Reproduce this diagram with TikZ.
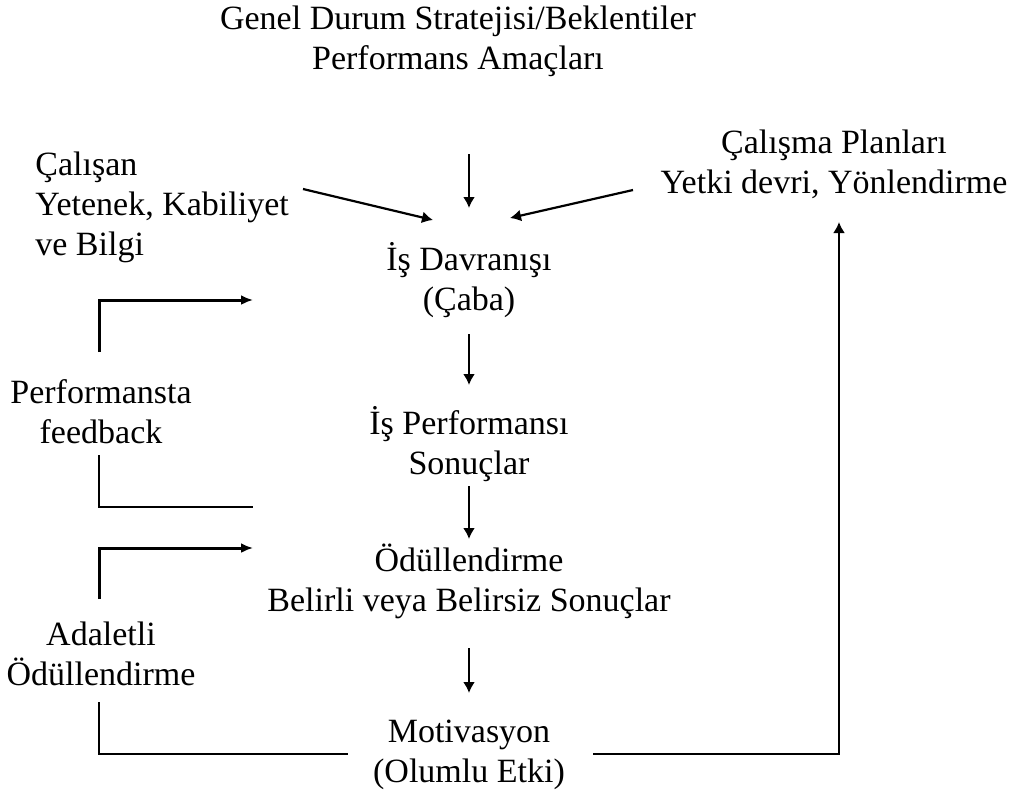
\documentclass[tikz,border=0pt]{standalone}
\usepackage{fontspec}
\setmainfont{Liberation Serif}
\usetikzlibrary{arrows.meta, positioning}

\begin{document}
\begin{tikzpicture}[
    x=0.5pt, y=-0.5pt,
    lbl/.style={font=\fontsize{17}{20}\selectfont, align=center, inner sep=0pt, anchor=base},
    flow/.style={line width=1.1pt, -{Latex[length=5.5pt, width=6pt]}},
    loopflow/.style={line width=1.5pt, -{Latex[length=6pt, width=5pt]}},
    loopline/.style={line width=1.1pt}
]
    \useasboundingbox (0,0) rectangle (1017,789);

    % blocks of text (placed at the baseline of their last line)
    \node[lbl] (genel) at (458,69) {Genel Durum Stratejisi/Beklentiler\\Performans Amaçları};
    \node[lbl, align=left, anchor=base west] (calisan) at (35,255) {Çalışan\\Yetenek, Kabiliyet\\ve Bilgi};
    \node[lbl] (plan) at (834,193) {Çalışma Planları\\Yetki devri, Yönlendirme};
    \node[lbl] (davranis) at (469,310) {İş Davranışı\\(Çaba)};
    \node[lbl] (perf) at (469,474) {İş Performansı\\Sonuçlar};
    \node[lbl] (odul) at (469,611) {Ödüllendirme\\Belirli veya Belirsiz Sonuçlar};
    \node[lbl] (motiv) at (469,782) {Motivasyon\\(Olumlu Etki)};
    \node[lbl] (feedback) at (101,443) {Performansta\\feedback};
    \node[lbl] (adalet) at (101,685) {Adaletli\\Ödüllendirme};

    % ends of the connectors
    \coordinate (genelE) at (469,154);
    \coordinate (davIn) at (469,208);
    \coordinate (calE) at (303,189);
    \coordinate (davL) at (433,220);
    \coordinate (planE) at (633,190);
    \coordinate (davR) at (510,218);
    \coordinate (davE) at (469,334);
    \coordinate (perfIn) at (469,385);
    \coordinate (perfE) at (469,486);
    \coordinate (odulIn) at (469,539);
    \coordinate (odulE) at (469,648);
    \coordinate (motivIn) at (469,693);
    \coordinate (fbTop) at (99,352);
    \coordinate (fbTo) at (253,300);
    \coordinate (fbBot) at (99,455);
    \coordinate (fbFrom) at (253,507);
    \coordinate (adTop) at (99,599);
    \coordinate (adTo) at (253,548);
    \coordinate (adBot) at (99,702);
    \coordinate (adFrom) at (348,754);
    \coordinate (motivR) at (593,754);
    \coordinate (planIn) at (839,222);

    % main column
    \draw[flow] (genelE) -- (davIn);
    \draw[flow] (calE) -- (davL);
    \draw[flow] (planE) -- (davR);
    \draw[flow] (davE) -- (perfIn);
    \draw[flow] (perfE) -- (odulIn);
    \draw[flow] (odulE) -- (motivIn);

    % loops on the left and the right
    \draw[loopflow] (fbTop) |- (fbTo);
    \draw[loopline] (fbBot) |- (fbFrom);
    \draw[loopflow] (adTop) |- (adTo);
    \draw[loopline] (adBot) |- (adFrom);
    \draw[flow, line width=1.2pt] (motivR) -| (planIn);
\end{tikzpicture}
\end{document}
